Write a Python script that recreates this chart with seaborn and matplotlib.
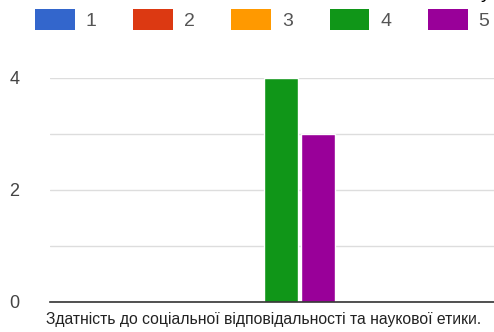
import matplotlib
matplotlib.use("Agg")
import matplotlib.pyplot as plt
import seaborn as sns
import pandas as pd

# data
category = "Здатність до соціальної відповідальності та наукової етики."
ratings = ["1", "2", "3", "4", "5"]
counts = [0, 0, 0, 4, 3]
colors = ["#3366cc", "#dc3912", "#ff9900", "#109618", "#990099"]

sns.set_theme(style="white")
plt.rcParams["font.family"] = ["Liberation Sans", "DejaVu Sans"]

df = pd.DataFrame({"category": [category] * len(ratings), "rating": ratings, "count": counts})

fig = plt.figure(figsize=(4.94, 3.32), dpi=100)
ax = fig.add_axes([50 / 494, 30 / 332, 444 / 494, 224 / 332])

sns.barplot(data=df, x="category", y="count", hue="rating", palette=colors,
            width=0.8, gap=0.09, ax=ax, legend=False, saturation=1)

ax.set_xlim(-0.827, 1.07)
ax.set_ylim(0, 4)
ax.set_yticks([0, 2, 4])
ax.set_yticks([1, 3], minor=True)
ax.grid(axis="y", which="both", color="#dddddd", linewidth=1)
ax.set_axisbelow(True)
ax.tick_params(axis="y", which="both", length=0, pad=22, labelsize=13, labelcolor="#444444")
ax.set_xticks([])
ax.set_xlabel("")
ax.set_ylabel("")
for s in ["top", "right", "left"]:
    ax.spines[s].set_visible(False)
ax.spines["bottom"].set_color("#333333")
ax.spines["bottom"].set_linewidth(1.2)

ax.text(0.48, -0.045, category, transform=ax.transAxes, ha="center", va="top",
        fontsize=11.3, color="#222222")

handles = [plt.Rectangle((0, 0), 1, 1, facecolor=c, edgecolor="none") for c in colors]
fig.legend(handles, ratings, loc="upper left", bbox_to_anchor=(35 / 494, 1 - 9 / 332),
           ncol=5, frameon=False, fontsize=14, labelcolor="#555555",
           handlelength=2.05, handleheight=1.3, handletextpad=0.55,
           columnspacing=1.89, borderpad=0, borderaxespad=0)

# clipped descender of a title above the crop
fig.text(486 / 494, 1.0 + 2 / 332, "у", ha="center", va="baseline", fontsize=14, color="black")

fig.savefig("out.png", dpi=100)
